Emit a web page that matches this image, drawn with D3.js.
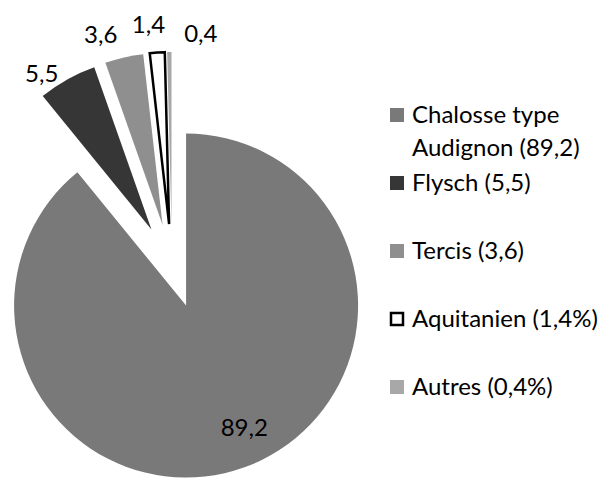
<!DOCTYPE html>
<html>
<head>
<meta charset="utf-8">
<script src="https://cdn.jsdelivr.net/npm/d3@7"></script>
<style>
  html, body { margin: 0; padding: 0; background: #fff; }
  svg { display: block; }
  text { font-family: Lato, "Open Sans", sans-serif; fill: #000; }
</style>
</head>
<body>
<svg id="chart" width="606" height="482"></svg>
<script>
// Composition by source (percent)
const categories = ["Chalosse type Audignon", "Flysch", "Tercis", "Aquitanien", "Autres"];
const values = [89.2, 5.5, 3.6, 1.4, 0.4];
const valueLabels = ["89,2", "5,5", "3,6", "1,4", "0,4"];
const legendLabels = [
  "Chalosse type Audignon (89,2)",
  "Flysch (5,5)",
  "Tercis (3,6)",
  "Aquitanien (1,4%)",
  "Autres (0,4%)"
];

const fills = ["#797979", "#363636", "#8f8f8f", "#ffffff", "#a8a8a8"];
const strokes = [null, null, null, "#000", null];

const svg = d3.select("#chart");
const cx = 172, cy = 266;      // pie centre before explosion
const radius = 172;
const explode = 42;            // every slice pulled out along its bisector

const pie = d3.pie().sort(null).startAngle(0).endAngle(2 * Math.PI);
const arcs = pie(values);
const arc = d3.arc().innerRadius(0).outerRadius(radius);

const dir = a => [Math.sin(a), -Math.cos(a)];
const mid = d => (d.startAngle + d.endAngle) / 2;

const g = svg.append("g").attr("transform", `translate(${cx},${cy})`);

g.selectAll("path.slice")
  .data(arcs)
  .join("path")
  .attr("class", "slice")
  .attr("transform", d => {
    const [ux, uy] = dir(mid(d));
    return `translate(${ux * explode},${uy * explode})`;
  })
  .attr("d", arc)
  .attr("fill", (d, i) => fills[i])
  .attr("stroke", (d, i) => strokes[i] || "none")
  .attr("stroke-width", 2.5)
  .attr("stroke-linejoin", "miter");

// Data labels: inside for the big slice, outside end for the small ones,
// with a small angular spread so the narrow ones do not collide.
const labelRadius = [177, 233, 242, 243, 234];
const labelShift = [-4.5, -4.7, -4.2, -1.6, 7.8].map(v => v * Math.PI / 180);

g.selectAll("text.value")
  .data(arcs)
  .join("text")
  .attr("class", "value")
  .attr("text-anchor", "middle")
  .attr("font-size", 24)
  .attr("x", (d, i) => dir(mid(d) + labelShift[i])[0] * labelRadius[i])
  .attr("y", (d, i) => dir(mid(d) + labelShift[i])[1] * labelRadius[i])
  .attr("dy", "0.36em")
  .text((d, i) => valueLabels[i]);

// Legend
const legendX = 390, firstBaseline = 123, rowStep = 68, lineStep = 33, box = 14;
const maxTextWidth = 190;

const legend = svg.append("g");
legendLabels.forEach((label, i) => {
  const baseline = firstBaseline + i * rowStep;
  legend.append("rect")
    .attr("x", legendX + (strokes[i] ? 1 : 0))
    .attr("y", baseline - box - 1 + (strokes[i] ? 1 : 0))
    .attr("width", box - (strokes[i] ? 2 : 0))
    .attr("height", box - (strokes[i] ? 2 : 0))
    .attr("fill", fills[i])
    .attr("stroke", strokes[i] || "none")
    .attr("stroke-width", 2.5);

  const t = legend.append("text")
    .attr("x", legendX + 22)
    .attr("y", baseline)
    .attr("font-size", 24);

  // simple word wrap
  const words = label.split(" ");
  let line = [];
  let tspan = t.append("tspan").attr("x", legendX + 22).attr("y", baseline);
  let lineNo = 0;
  words.forEach(w => {
    line.push(w);
    tspan.text(line.join(" "));
    if (tspan.node().getComputedTextLength() > maxTextWidth && line.length > 1) {
      line.pop();
      tspan.text(line.join(" "));
      line = [w];
      lineNo++;
      tspan = t.append("tspan")
        .attr("x", legendX + 22)
        .attr("y", baseline + lineNo * lineStep)
        .text(w);
    }
  });
});
</script>
</body>
</html>
